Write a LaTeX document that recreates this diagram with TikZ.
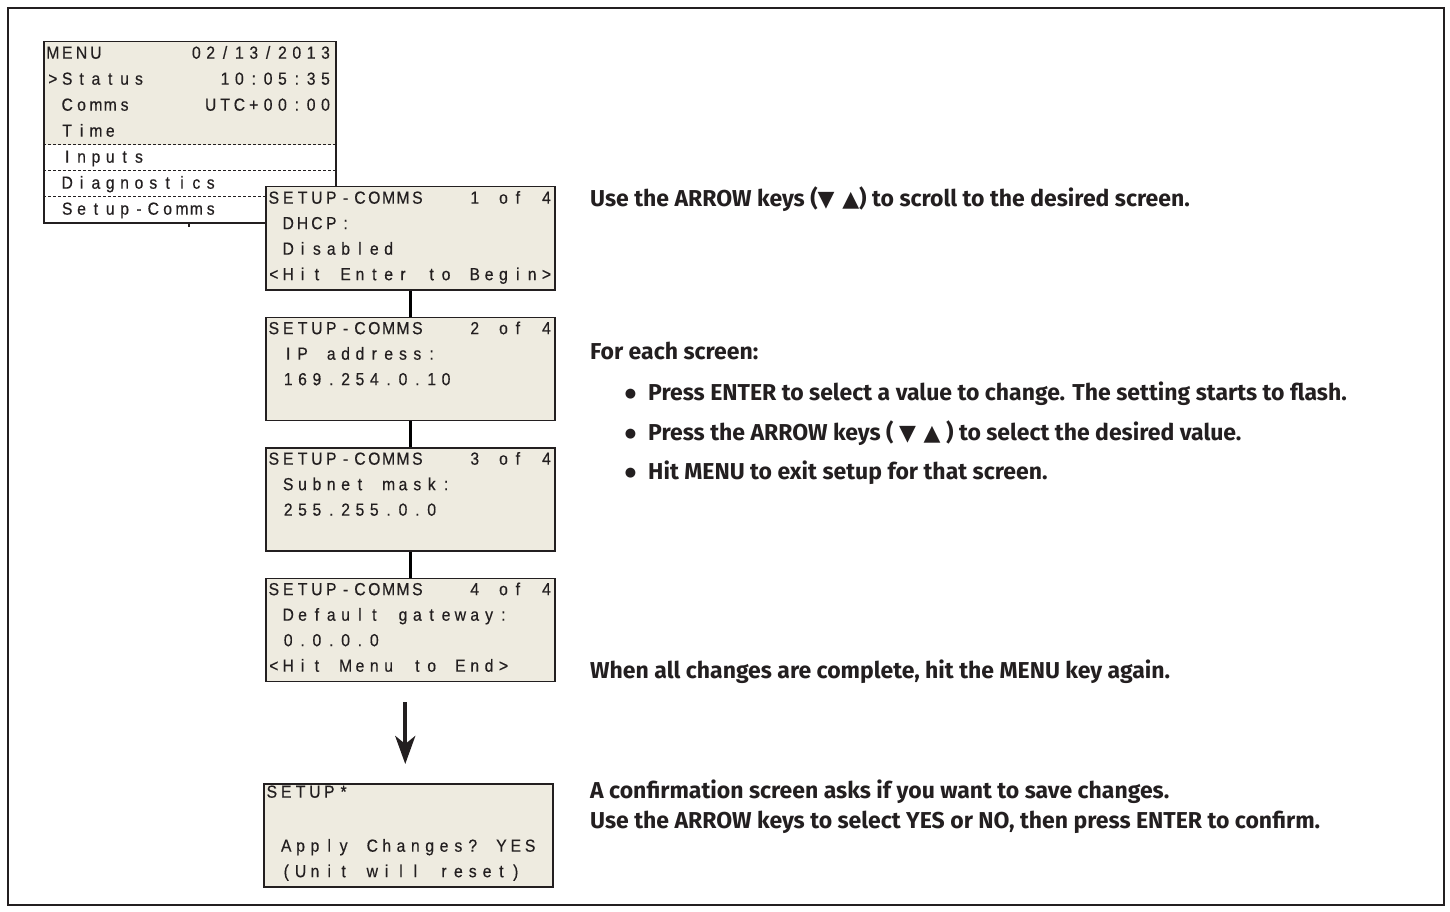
\documentclass[tikz,border=0pt]{standalone}
\usepackage{fontspec}
\setmainfont{Fira Sans}
\newfontfamily\lcdfont[FakeStretch=0.9,FakeBold=0.4]{Liberation Sans}
\newfontfamily\symfont{DejaVu Sans}
\usepackage{xcolor}
\usetikzlibrary{arrows.meta}
\usetikzlibrary{positioning}
\definecolor{lcdbg}{RGB}{238,235,224}
\definecolor{ink}{RGB}{35,31,32}
% one LCD cell per character
\ExplSyntaxOn
\NewDocumentCommand\lcdtext{m}{\str_map_inline:nn{#1}{\hbox_to_wd:nn{14.35pt}{\hss##1\hss}}}
\ExplSyntaxOff
\newcommand\lcdrow[2]{\hbox to 287pt{\lcdtext{#1}\hfill\lcdtext{#2}}}
\newcommand\lcdstrut{\rule{0pt}{17.5pt}}
\newcommand\tri[1]{{\symfont\fontsize{22}{26}\selectfont #1}}
\newcommand\dotmark{\llap{\raisebox{3pt}{\symfont\fontsize{13}{16}\selectfont ●}\hspace{12pt}}}
\tikzset{
	screen/.style={rectangle,draw=ink,line width=1.5pt,fill=lcdbg,
		minimum width=289pt,minimum height=103pt,inner sep=0pt},
	lcd/.style={anchor=north west,inner xsep=1.5pt,inner ysep=0pt,align=left,
		text=ink,font=\lcdfont\fontsize{17.5}{25.5}\selectfont},
	note/.style={anchor=base west,inner sep=0pt,text=ink,
		font=\bfseries\fontsize{23}{27}\selectfont},
	link/.style={line width=3.5pt,black},
	sep/.style={ink,line width=1pt,dash pattern=on 3pt off 2pt},
	bigarrow/.style={line width=4pt,ink,-{Stealth[length=28pt,width=20pt,inset=8pt]}}
}

\begin{document}
\begin{tikzpicture}[x=1pt,y=-1pt]
	\useasboundingbox (0,0) rectangle (1450,912);
	\draw[ink,line width=2.5pt] (8,8) rectangle (1444,905);

	% main menu
	\fill[white] (43,41) rectangle (335,222);
	\fill[lcdbg] (43,41) rectangle (335,145);
	\foreach \y in {145,171,197}
		\draw[sep] (43,\y) -- (335,\y);
	\node [draw=ink,line width=1.5pt,minimum width=292pt,minimum height=181pt,
		anchor=north west,inner sep=0pt] (menu) at (43,41) {};
	\node [lcd,font=\lcdfont\fontsize{17.5}{26}\selectfont] (menutext) at (44,41)
		{\lcdstrut\lcdrow{MENU}{02/13/2013}\\\lcdrow{>Status}{10:05:35}\\
		\lcdrow{ Comms}{UTC+00:00}\\\lcdtext{ Time}\\\lcdtext{ Inputs}\\
		\lcdtext{ Diagnostics}\\\lcdtext{ Setup-Comms}};
	\coordinate (tick) at (189,227);
	\draw[ink,line width=1.5pt] (menu.south -| tick) -- (tick);

	% setup screens
	\node [screen,anchor=north west] (s1) at (265,186) {};
	\node [screen,below=26pt of s1] (s2) {};
	\node [screen,below=26pt of s2] (s3) {};
	\node [screen,below=26pt of s3] (s4) {};
	\node [screen,below=101pt of s4,xshift=-2pt] (s5) {};

	\node [lcd] (t1) at (s1.north west)
		{\lcdstrut\lcdrow{SETUP-COMMS}{1 of 4}\\\lcdtext{ DHCP:}\\
		\lcdtext{ Disabled}\\\lcdtext{<Hit Enter to Begin>}};
	\node [lcd] (t2) at (s2.north west)
		{\lcdstrut\lcdrow{SETUP-COMMS}{2 of 4}\\\lcdtext{ IP address:}\\
		\lcdtext{ 169.254.0.10}};
	\node [lcd] (t3) at (s3.north west)
		{\lcdstrut\lcdrow{SETUP-COMMS}{3 of 4}\\\lcdtext{ Subnet mask:}\\
		\lcdtext{ 255.255.0.0}};
	\node [lcd] (t4) at (s4.north west)
		{\lcdstrut\lcdrow{SETUP-COMMS}{4 of 4}\\\lcdtext{ Default gateway:}\\
		\lcdtext{ 0.0.0.0}\\\lcdtext{<Hit Menu to End>}};
	\node [lcd] (t5) at (s5.north west)
		{\lcdstrut\raisebox{3pt}[0pt][0pt]{\lcdtext{SETUP*}}\\\mbox{}\\
		\lcdtext{ Apply Changes? YES}\\\lcdtext{ (Unit will reset)}};

	\draw[link] (s1) -- (s2);
	\draw[link] (s2) -- (s3);
	\draw[link] (s3) -- (s4);
	\draw[bigarrow] ([xshift=-5pt,yshift=-20pt]s4.south) -- ([xshift=-3pt,yshift=19pt]s5.north);

	% instructions
	\node [note] (n1) at (590,206)
		{Use the ARROW keys (\tri{▼ ▲}) to scroll to the desired screen.};
	\node [note] (n2) at (590,359) {For each screen:};
	\node [note] (b1) at (648,400)
		{\dotmark Press ENTER to select a value to change. The setting starts to flash.};
	\node [note] (b2) at (648,440)
		{\dotmark Press the ARROW keys ( \tri{▼ ▲} ) to select the desired value.};
	\node [note] (b3) at (648,479)
		{\dotmark Hit MENU to exit setup for that screen.};
	\node [note] (n3) at (590,678)
		{When all changes are complete, hit the MENU key again.};
	\node [note] (n4) at (590,798)
		{A confirmation screen asks if you want to save changes.};
	\node [note] (n5) at (590,828)
		{Use the ARROW keys to select YES or NO, then press ENTER to confirm.};
\end{tikzpicture}
\end{document}
